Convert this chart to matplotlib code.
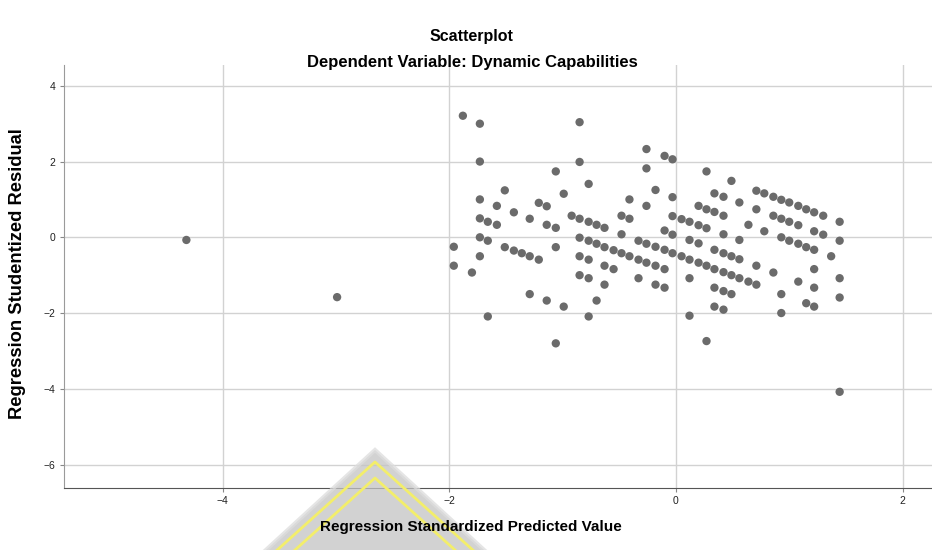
import matplotlib
matplotlib.use("Agg")
import matplotlib.pyplot as plt
from matplotlib.patches import Polygon

# SPSS residual plot
# one line per column of points (same predicted value)
pred = [
    -4.32,
    -2.99,
    -1.96, -1.96,
    -1.88,
    -1.80,
    -1.73, -1.73, -1.73, -1.73, -1.73, -1.73,
    -1.66, -1.66, -1.66,
    -1.58, -1.58,
    -1.51, -1.51,
    -1.43, -1.43,
    -1.36,
    -1.29, -1.29, -1.29,
    -1.21, -1.21,
    -1.14, -1.14, -1.14,
    -1.06, -1.06, -1.06, -1.06,
    -0.99, -0.99,
    -0.92,
    -0.85, -0.85, -0.85, -0.85, -0.85, -0.85,
    -0.77, -0.77, -0.77, -0.77, -0.77, -0.77,
    -0.70, -0.70, -0.70,
    -0.63, -0.63, -0.63, -0.63,
    -0.55, -0.55,
    -0.48, -0.48, -0.48,
    -0.41, -0.41, -0.41,
    -0.33, -0.33, -0.33,
    -0.26, -0.26, -0.26, -0.26, -0.26,
    -0.18, -0.18, -0.18, -0.18,
    -0.10, -0.10, -0.10, -0.10, -0.10,
    -0.03, -0.03, -0.03, -0.03, -0.03,
    0.05, 0.05,
    0.12, 0.12, 0.12, 0.12, 0.12,
    0.20, 0.20, 0.20, 0.20,
    0.27, 0.27, 0.27, 0.27, 0.27,
    0.34, 0.34, 0.34, 0.34, 0.34, 0.34,
    0.42, 0.42, 0.42, 0.42, 0.42, 0.42, 0.42,
    0.49, 0.49, 0.49, 0.49,
    0.56, 0.56, 0.56, 0.56,
    0.64, 0.64,
    0.71, 0.71, 0.71, 0.71,
    0.78, 0.78,
    0.86, 0.86, 0.86,
    0.93, 0.93, 0.93, 0.93, 0.93,
    1.00, 1.00, 1.00,
    1.08, 1.08, 1.08, 1.08,
    1.15, 1.15, 1.15,
    1.22, 1.22, 1.22, 1.22, 1.22, 1.22,
    1.30, 1.30,
    1.37,
    1.445, 1.445, 1.445, 1.445, 1.445,
]
resid = [
    -0.07,
    -1.58,
    -0.25, -0.75,
    3.21,
    -0.93,
    3.00, 2.00, 1.00, 0.50, 0.00, -0.50,
    0.41, -0.09, -2.09,
    0.83, 0.33,
    1.24, -0.26,
    0.66, -0.35,
    -0.42,
    0.49, -0.50, -1.50,
    0.91, -0.59,
    0.82, 0.33, -1.67,
    1.74, 0.25, -0.26, -2.80,
    1.15, -1.83,
    0.57,
    3.04, 1.99, 0.49, -0.01, -0.50, -1.00,
    1.41, 0.41, -0.09, -0.59, -1.08, -2.09,
    0.33, -0.17, -1.67,
    0.25, -0.26, -0.75, -1.25,
    -0.34, -0.84,
    0.57, 0.08, -0.42,
    1.00, 0.49, -0.50,
    -0.09, -0.59, -1.08,
    2.33, 1.82, 0.83, -0.17, -0.67,
    1.25, -0.25, -0.75, -1.25,
    2.15, 0.18, -0.33, -0.84, -1.33,
    2.06, 1.06, 0.56, 0.07, -0.42,
    0.48, -0.50,
    0.41, -0.07, -0.59, -1.08, -2.07,
    0.83, 0.32, -0.16, -0.67,
    1.74, 0.74, 0.24, -0.75, -2.74,
    1.16, 0.67, -0.33, -0.84, -1.33, -1.83,
    1.07, 0.57, 0.08, -0.42, -0.92, -1.42, -1.91,
    1.49, -0.50, -1.00, -1.50,
    0.92, -0.07, -0.58, -1.08,
    0.33, -1.17,
    1.23, 0.74, -0.75, -1.25,
    1.16, 0.16,
    1.07, 0.57, -0.93,
    0.99, 0.49, 0.00, -1.50, -2.00,
    0.92, 0.41, -0.09,
    0.83, 0.32, -0.17, -1.17,
    0.74, -0.26, -1.74,
    0.66, 0.16, -0.33, -0.84, -1.33, -1.83,
    0.57, 0.07,
    -0.50,
    0.41, -0.09, -1.08, -1.59, -4.08,
]

x_ticks = [-4, -2, 0, 2]
y_ticks = [-6, -4, -2, 0, 2, 4]

plt.rcParams['font.family'] = ['Liberation Sans', 'DejaVu Sans']

W, H = 932, 550
fig = plt.figure(figsize=(W / 100, H / 100), dpi=100)
ax = fig.add_axes([64 / W, 1 - 488 / H, 1 - 64 / W, (488 - 65) / H])

ax.scatter(pred, resid, s=36, color='#6b6b6b', edgecolors='none', zorder=3)

ax.set_xlim(-5.40, 2.26)
ax.set_ylim(-6.62, 4.55)
ax.set_xticks(x_ticks)
ax.set_yticks(y_ticks)
ax.grid(True, color='#d2d2d2', linewidth=1.0, zorder=0)
ax.set_axisbelow(True)
ax.tick_params(labelsize=7.5, length=3, color='#888888', colors='#222222', pad=3)
ax.spines['top'].set_visible(False)
ax.spines['right'].set_visible(False)
ax.spines['left'].set_color('#9a9a9a')
ax.spines['bottom'].set_color('#555555')

fig.text(471 / W, 1 - 36 / H, 'Scatterplot', ha='center', va='center',
         fontsize=11.5, fontweight='bold')
fig.text(472 / W, 1 - 62 / H, 'Dependent Variable: Dynamic Capabilities',
         ha='center', va='center', fontsize=12, fontweight='bold')
fig.text(18 / W, 1 - 274 / H, 'Regression Studentized Residual', rotation=90,
         ha='center', va='center', fontsize=13.2, fontweight='bold')

# watermark left on the screenshot
def fp(px, py):
    return (px / W, 1 - py / H)

tri = Polygon([fp(375, 450), fp(255, 560), fp(495, 560)], closed=True,
              transform=fig.transFigure, facecolor='#c4c4c4', alpha=0.75,
              edgecolor='#dddddd', linewidth=3, zorder=1)
fig.patches.append(tri)
for apex, half in [(462, 112), (478, 100)]:
    xs = [375 - half, 375, 375 + half]
    ys = [apex + half * 0.9, apex, apex + half * 0.9]
    pts = [fp(a, b) for a, b in zip(xs, ys)]
    fig.lines.append(plt.Line2D([p[0] for p in pts], [p[1] for p in pts],
                                transform=fig.transFigure, color='#f3ee6a',
                                linewidth=2, zorder=2))

fig.text(471 / W, 1 - 527 / H, 'Regression Standardized Predicted Value',
         ha='center', va='center', fontsize=11, fontweight='bold', zorder=5)

fig.savefig('out.png', dpi=100)
